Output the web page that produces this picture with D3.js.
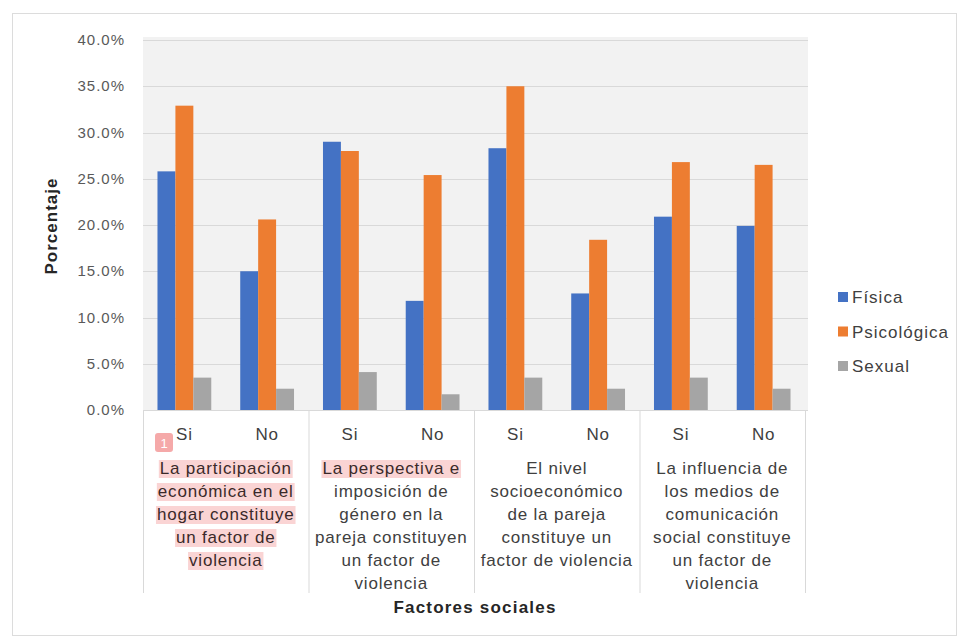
<!DOCTYPE html>
<html><head><meta charset="utf-8">
<script src="https://cdn.jsdelivr.net/npm/d3@7"></script>
<style>body{margin:0;background:#fff}text{font-family:"Liberation Sans",Arial,sans-serif}</style>
</head><body><svg id="c" width="961" height="639"></svg>
<script>
const groups = [
  ["La participación","económica en el","hogar constituye","un factor de","violencia"],
  ["La perspectiva e","imposición de","género en la","pareja constituyen","un factor de","violencia"],
  ["El nivel","socioeconómico","de la pareja","constituye un","factor de violencia"],
  ["La influencia de","los medios de","comunicación","social constituye","un factor de","violencia"]
];
const answers = ["Si","No"];
const seriesNames = ["Física","Psicológica","Sexual"];
const fisica      = [25.8,15.0,29.0,11.8,28.3,12.6,20.9,19.9];
const psicologica = [32.9,20.6,28.0,25.4,35.0,18.4,26.8,26.5];
const sexual      = [3.5,2.3,4.1,1.7,3.5,2.3,3.5,2.3];
const yTicks = [0,5,10,15,20,25,30,35,40];
const highlighted = [[0,0],[0,1],[0,2],[0,3],[0,4],[1,0]];

const colors = ["#4472C4","#ED7D31","#A5A5A5"];
const seriesVals = [fisica, psicologica, sexual];
const svg = d3.select("#c");

svg.append("rect").attr("x",12.5).attr("y",13.5).attr("width",944).attr("height",622)
  .attr("fill","#fff").attr("stroke","#dcdcdc");

const x0 = 143, x1 = 805, yTop = 40, yBot = 410;
const y = d3.scaleLinear().domain([0,40]).range([yBot,yTop]);
const subKeys = d3.range(8);
const xb = d3.scaleBand().domain(subKeys).range([x0,x1]).paddingInner(0.35).paddingOuter(0.175);
const xs = d3.scaleBand().domain(d3.range(3)).range([0,xb.bandwidth()]);
const xg = d3.scaleBand().domain(d3.range(4)).range([x0,x1]);

svg.append("rect").attr("x",x0).attr("y",37).attr("width",x1-x0+3).attr("height",yBot-37).attr("fill","#f2f2f2");

svg.append("g").selectAll("line").data(yTicks.slice(1)).join("line")
  .attr("x1",x0).attr("x2",x1+3).attr("y1",d=>Math.round(y(d))+0.5).attr("y2",d=>Math.round(y(d))+0.5)
  .attr("stroke","#d9d9d9");

svg.append("g").selectAll("text").data(yTicks).join("text")
  .attr("x",125).attr("y",d=>y(d)+5).attr("text-anchor","end")
  .attr("font-size",15).attr("letter-spacing",1).attr("fill","#595959")
  .text(d=>d.toFixed(1)+"%");

// bars
seriesVals.forEach((vals,si)=>{
  svg.append("g").selectAll("rect").data(vals).join("rect")
    .attr("x",(d,i)=>xb(i)+xs(si)).attr("width",xs.bandwidth())
    .attr("y",d=>y(d)).attr("height",d=>y(0)-y(d)).attr("fill",colors[si]);
});

// axis line & separators
svg.append("line").attr("x1",x0).attr("x2",x1+3).attr("y1",yBot+0.5).attr("y2",yBot+0.5).attr("stroke","#d9d9d9");
svg.append("g").selectAll("line").data(d3.range(5)).join("line")
  .attr("x1",d=>(d<4?xg(d):x1)+0.5).attr("x2",d=>(d<4?xg(d):x1)+0.5)
  .attr("y1",yBot).attr("y2",593).attr("stroke","#d9d9d9");

// Si / No
svg.append("g").selectAll("text").data(subKeys).join("text")
  .attr("x",d=>xb(d)+xb.bandwidth()/2).attr("y",440).attr("text-anchor","middle")
  .attr("font-size",17).attr("letter-spacing",0.8).attr("fill","#404040")
  .text(d=>answers[d%2]);

// group labels
const gl = svg.append("g");
groups.forEach((lines,gi)=>{
  const cx = xg(gi)+xg.bandwidth()/2;
  lines.forEach((ln,li)=>{
    const isH = highlighted.some(h=>h[0]===gi&&h[1]===li);
    const t = gl.append("text").attr("x",cx).attr("y",474+li*23).attr("text-anchor","middle")
      .attr("font-size",17).attr("letter-spacing",0.8).attr("fill",isH?"#3a2a2a":"#404040").text(ln);
    if(isH){
      const bb = t.node().getBBox();
      gl.insert("rect","text").attr("x",bb.x-1).attr("y",bb.y+1).attr("width",bb.width+2).attr("height",bb.height-1)
        .attr("fill","#fad4d4");
    }
  });
});
// badge
svg.append("rect").attr("x",155).attr("y",433).attr("width",18).attr("height",19).attr("rx",3).attr("fill","#f5a9a9");
svg.append("text").attr("x",164).attr("y",448).attr("text-anchor","middle").attr("font-size",13).attr("fill","#fff").text("1");

// titles
svg.append("text").attr("transform","translate(57,226) rotate(-90)").attr("text-anchor","middle")
  .attr("font-size",17).attr("font-weight","bold").attr("letter-spacing",1).attr("fill","#262626").text("Porcentaje");
svg.append("text").attr("x",475).attr("y",613).attr("text-anchor","middle")
  .attr("font-size",17).attr("font-weight","bold").attr("letter-spacing",1.2).attr("fill","#262626").text("Factores sociales");

// legend
const lg = svg.append("g").selectAll("g").data(seriesNames).join("g")
  .attr("transform",(d,i)=>`translate(838,${297+i*34.5})`);
lg.append("rect").attr("x",0).attr("y",-5).attr("width",10).attr("height",10).attr("fill",(d,i)=>colors[i]);
lg.append("text").attr("x",14).attr("y",6).attr("font-size",17).attr("letter-spacing",1).attr("fill","#404040").text(d=>d);
</script></body></html>
